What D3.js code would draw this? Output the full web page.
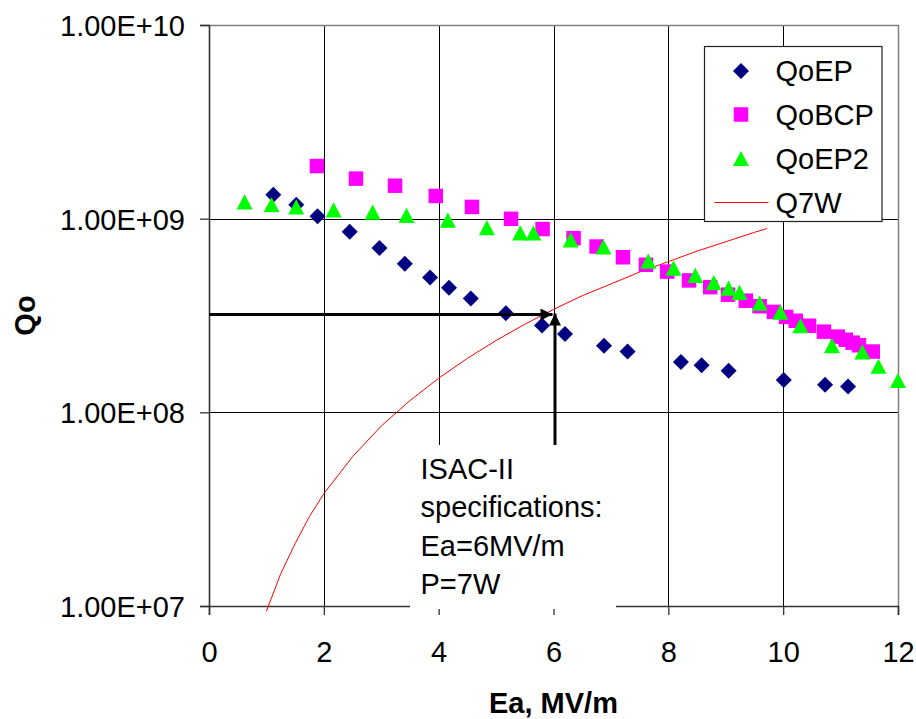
<!DOCTYPE html>
<html>
<head>
<meta charset="utf-8">
<script src="https://cdn.jsdelivr.net/npm/d3@7"></script>
<style>
  html, body { margin: 0; padding: 0; background: #fff; }
  svg { display: block; }
  text { font-family: "Liberation Sans", Arial, Helvetica, sans-serif; fill: #000; }
</style>
</head>
<body>
<svg id="chart" width="916" height="719"></svg>
<script>
// Measured quality factor Qo versus accelerating field Ea
const eaEP = [1.12, 1.52, 1.89, 2.45, 2.97, 3.41, 3.85, 4.18, 4.56, 5.17, 5.80, 6.20, 6.88, 7.29, 8.22, 8.58, 9.05, 10.01, 10.73, 11.13];
const qoEP = [1.33e9, 1.18e9, 1.03e9, 8.55e8, 7.06e8, 5.85e8, 4.97e8, 4.40e8, 3.87e8, 3.25e8, 2.81e8, 2.54e8, 2.21e8, 2.06e8, 1.82e8, 1.75e8, 1.64e8, 1.47e8, 1.39e8, 1.36e8];

const eaBCP = [1.88, 2.56, 3.24, 3.95, 4.58, 5.26, 5.81, 6.35, 6.75, 7.21, 7.61, 7.98, 8.36, 8.73, 9.04, 9.35, 9.59, 9.84, 10.05, 10.22, 10.45, 10.71, 10.95, 11.09, 11.21, 11.32, 11.56];
const qoBCP = [1.87e9, 1.61e9, 1.48e9, 1.31e9, 1.15e9, 9.98e8, 8.84e8, 7.93e8, 7.18e8, 6.32e8, 5.78e8, 5.33e8, 4.80e8, 4.43e8, 4.05e8, 3.77e8, 3.53e8, 3.30e8, 3.11e8, 2.97e8, 2.80e8, 2.61e8, 2.46e8, 2.37e8, 2.29e8, 2.22e8, 2.06e8];

const eaEP2 = [0.62, 1.09, 1.52, 2.17, 2.85, 3.44, 4.16, 4.84, 5.42, 5.65, 6.30, 6.87, 7.65, 8.09, 8.47, 8.79, 9.05, 9.24, 9.59, 9.95, 10.30, 10.85, 11.38, 11.66, 12.0];
const qoEP2 = [1.22e9, 1.18e9, 1.15e9, 1.11e9, 1.08e9, 1.04e9, 9.82e8, 8.98e8, 8.45e8, 8.45e8, 7.78e8, 7.15e8, 6.04e8, 5.56e8, 5.10e8, 4.68e8, 4.38e8, 4.16e8, 3.66e8, 3.29e8, 2.80e8, 2.21e8, 2.05e8, 1.73e8, 1.46e8];

// Qo needed for 7 W of cavity losses
const ea7W = [1.0, 1.25, 1.5, 1.75, 2.0, 2.5, 3.0, 3.5, 4.0, 4.5, 5.0, 5.5, 6.0, 6.5, 7.0, 7.5, 8.0, 8.5, 9.0, 9.5, 9.72];
const q7W  = [9.4e6, 1.47e7, 2.1e7, 2.9e7, 3.8e7, 5.9e7, 8.5e7, 1.15e8, 1.5e8, 1.9e8, 2.35e8, 2.85e8, 3.4e8, 4.0e8, 4.6e8, 5.3e8, 6.0e8, 6.8e8, 7.6e8, 8.5e8, 8.9e8];

const seriesNames = ["QoEP", "QoBCP", "QoEP2", "Q7W"];
const xTickValues = [0, 2, 4, 6, 8, 10, 12];
const xTickLabels = ["0", "2", "4", "6", "8", "10", "12"];
const yTickValues = [1e7, 1e8, 1e9, 1e10];
const yTickLabels = ["1.00E+07", "1.00E+08", "1.00E+09", "1.00E+10"];

// ISAC-II specification point
const specEa = 6;
const specQ = 3.2e8;
const specLines = ["ISAC-II", "specifications:", "Ea=6MV/m", "P=7W"];

const xTitle = "Ea, MV/m";
const yTitle = "Qo";

// ---- layout ----
const W = 916, H = 719;
const plot = { left: 209, right: 898, top: 25, bottom: 606 };
const FS = 29;

const svg = d3.select("#chart");
svg.append("rect").attr("width", W).attr("height", H).attr("fill", "#fff");

const x = d3.scaleLinear().domain([0, 12]).range([plot.left, plot.right]);
const y = d3.scaleLog().domain([1e7, 1e10]).range([plot.bottom, plot.top]);

const crisp = v => Math.round(v) + 0.5;

// gridlines
const grid = svg.append("g");
grid.selectAll("line.h").data(yTickValues.slice(1, -1)).enter().append("line")
  .attr("x1", plot.left).attr("x2", plot.right)
  .attr("y1", d => crisp(y(d))).attr("y2", d => crisp(y(d)))
  .attr("stroke", "#000").attr("stroke-width", 1);
grid.selectAll("line.v").data(xTickValues.slice(1, -1)).enter().append("line")
  .attr("y1", plot.top).attr("y2", plot.bottom)
  .attr("x1", d => crisp(x(d))).attr("x2", d => crisp(x(d)))
  .attr("stroke", "#000").attr("stroke-width", 1);

// plot frame: top and right in grey
svg.append("path")
  .attr("d", `M${plot.left},${crisp(plot.top)}H${crisp(plot.right)}V${plot.bottom}`)
  .attr("fill", "none").attr("stroke", "#808080").attr("stroke-width", 1.5);

// axes
const yAxis = d3.axisLeft(y).tickValues(yTickValues)
  .tickFormat((d, i) => yTickLabels[i]).tickSize(9).tickPadding(15);
const xAxis = d3.axisBottom(x).tickValues(xTickValues)
  .tickFormat((d, i) => xTickLabels[i]).tickSize(9).tickPadding(26);

const gy = svg.append("g").attr("transform", `translate(${plot.left},0)`).call(yAxis);
const gx = svg.append("g").attr("transform", `translate(0,${plot.bottom})`).call(xAxis);
[gx, gy].forEach(g => {
  g.select(".domain").attr("stroke", "#333").attr("stroke-width", 1.6);
  g.selectAll(".tick line").attr("stroke", "#333").attr("stroke-width", 1.3);
  g.selectAll(".tick text").attr("font-size", FS)
    .attr("font-family", "'Liberation Sans', Arial, sans-serif").attr("fill", "#000");
});
gy.selectAll(".tick text").attr("dy", "0.36em");

// Q7W line
const line = d3.line().x(d => x(d[0])).y(d => y(d[1]));
svg.append("path")
  .datum(ea7W.map((e, i) => [e, q7W[i]]))
  .attr("d", line)
  .attr("fill", "none").attr("stroke", "#ff0000").attr("stroke-width", 1);

// marker shapes
function diamond(cx, cy, r) {
  return `M${cx},${cy - r}L${cx + r},${cy}L${cx},${cy + r}L${cx - r},${cy}Z`;
}
function square(cx, cy, s) {
  const h = s / 2;
  return `M${cx - h},${cy - h}h${s}v${s}h${-s}Z`;
}
function triangle(cx, cy, hw, hh) {
  return `M${cx},${cy - hh}L${cx + hw},${cy + hh}L${cx - hw},${cy + hh}Z`;
}

const markers = [
  { ea: eaEP,  q: qoEP,  color: "#000080", shape: (cx, cy) => diamond(cx, cy, 8) },
  { ea: eaBCP, q: qoBCP, color: "#ff00ff", shape: (cx, cy) => square(cx, cy, 14.5) },
  { ea: eaEP2, q: qoEP2, color: "#00ff00", shape: (cx, cy) => triangle(cx, cy, 8, 7.6) }
];
markers.forEach(m => {
  svg.append("g").selectAll("path")
    .data(m.ea.map((e, i) => [e, m.q[i]]))
    .enter().append("path")
    .attr("d", d => m.shape(x(d[0]), y(d[1])))
    .attr("fill", m.color);
});

// specification text box (drawn over grid and axis)
const boxTop = 445, boxBottom = 609, boxLeft = 410, boxRight = 616;
svg.append("rect")
  .attr("x", boxLeft).attr("y", boxTop)
  .attr("width", boxRight - boxLeft).attr("height", boxBottom - boxTop)
  .attr("fill", "#fff");
svg.append("g").selectAll("text").data(specLines).enter().append("text")
  .attr("x", 420.5).attr("y", (d, i) => 479 + i * 38.4)
  .attr("font-size", FS).text(d => d);

// arrows toward the specification point
const defs = svg.append("defs");
defs.append("marker").attr("id", "arrowhead")
  .attr("viewBox", "0 0 10 10").attr("refX", 10).attr("refY", 5)
  .attr("markerUnits", "userSpaceOnUse")
  .attr("markerWidth", 14).attr("markerHeight", 12)
  .attr("orient", "auto")
  .append("path").attr("d", "M0,0L10,5L0,10Z").attr("fill", "#000");

const px = x(specEa), py = y(specQ);
svg.append("line")
  .attr("x1", plot.left).attr("y1", py).attr("x2", px - 1).attr("y2", py)
  .attr("stroke", "#000").attr("stroke-width", 3).attr("marker-end", "url(#arrowhead)");
svg.append("line")
  .attr("x1", px + 1.5).attr("y1", boxTop).attr("x2", px + 1.5).attr("y2", py - 1)
  .attr("stroke", "#000").attr("stroke-width", 3).attr("marker-end", "url(#arrowhead)");

// legend
const lg = svg.append("g");
lg.append("rect").attr("x", 704.5).attr("y", 46.5).attr("width", 177.5).attr("height", 175)
  .attr("fill", "#fff").attr("stroke", "#222").attr("stroke-width", 1.2);
const rowY = [71, 114.5, 158.5, 202.5];
lg.append("path").attr("d", diamond(741, rowY[0], 8)).attr("fill", "#000080");
lg.append("path").attr("d", square(741, rowY[1], 14.5)).attr("fill", "#ff00ff");
lg.append("path").attr("d", triangle(741, rowY[2], 8, 7.6)).attr("fill", "#00ff00");
lg.append("line").attr("x1", 714.5).attr("x2", 768.5).attr("y1", rowY[3]).attr("y2", rowY[3])
  .attr("stroke", "#ff0000").attr("stroke-width", 1);
lg.selectAll("text.lab").data(seriesNames).enter().append("text")
  .attr("x", 775.5).attr("y", (d, i) => rowY[i] + 10.4)
  .attr("font-size", FS).text(d => d);

// axis titles
svg.append("text").attr("x", (plot.left + plot.right) / 2).attr("y", 713)
  .attr("text-anchor", "middle").attr("font-size", FS).attr("font-weight", "bold")
  .text(xTitle);
svg.append("text")
  .attr("transform", `translate(35,${(plot.top + plot.bottom) / 2}) rotate(-90)`)
  .attr("text-anchor", "middle").attr("font-size", FS).attr("font-weight", "bold")
  .text(yTitle);
</script>
</body>
</html>
